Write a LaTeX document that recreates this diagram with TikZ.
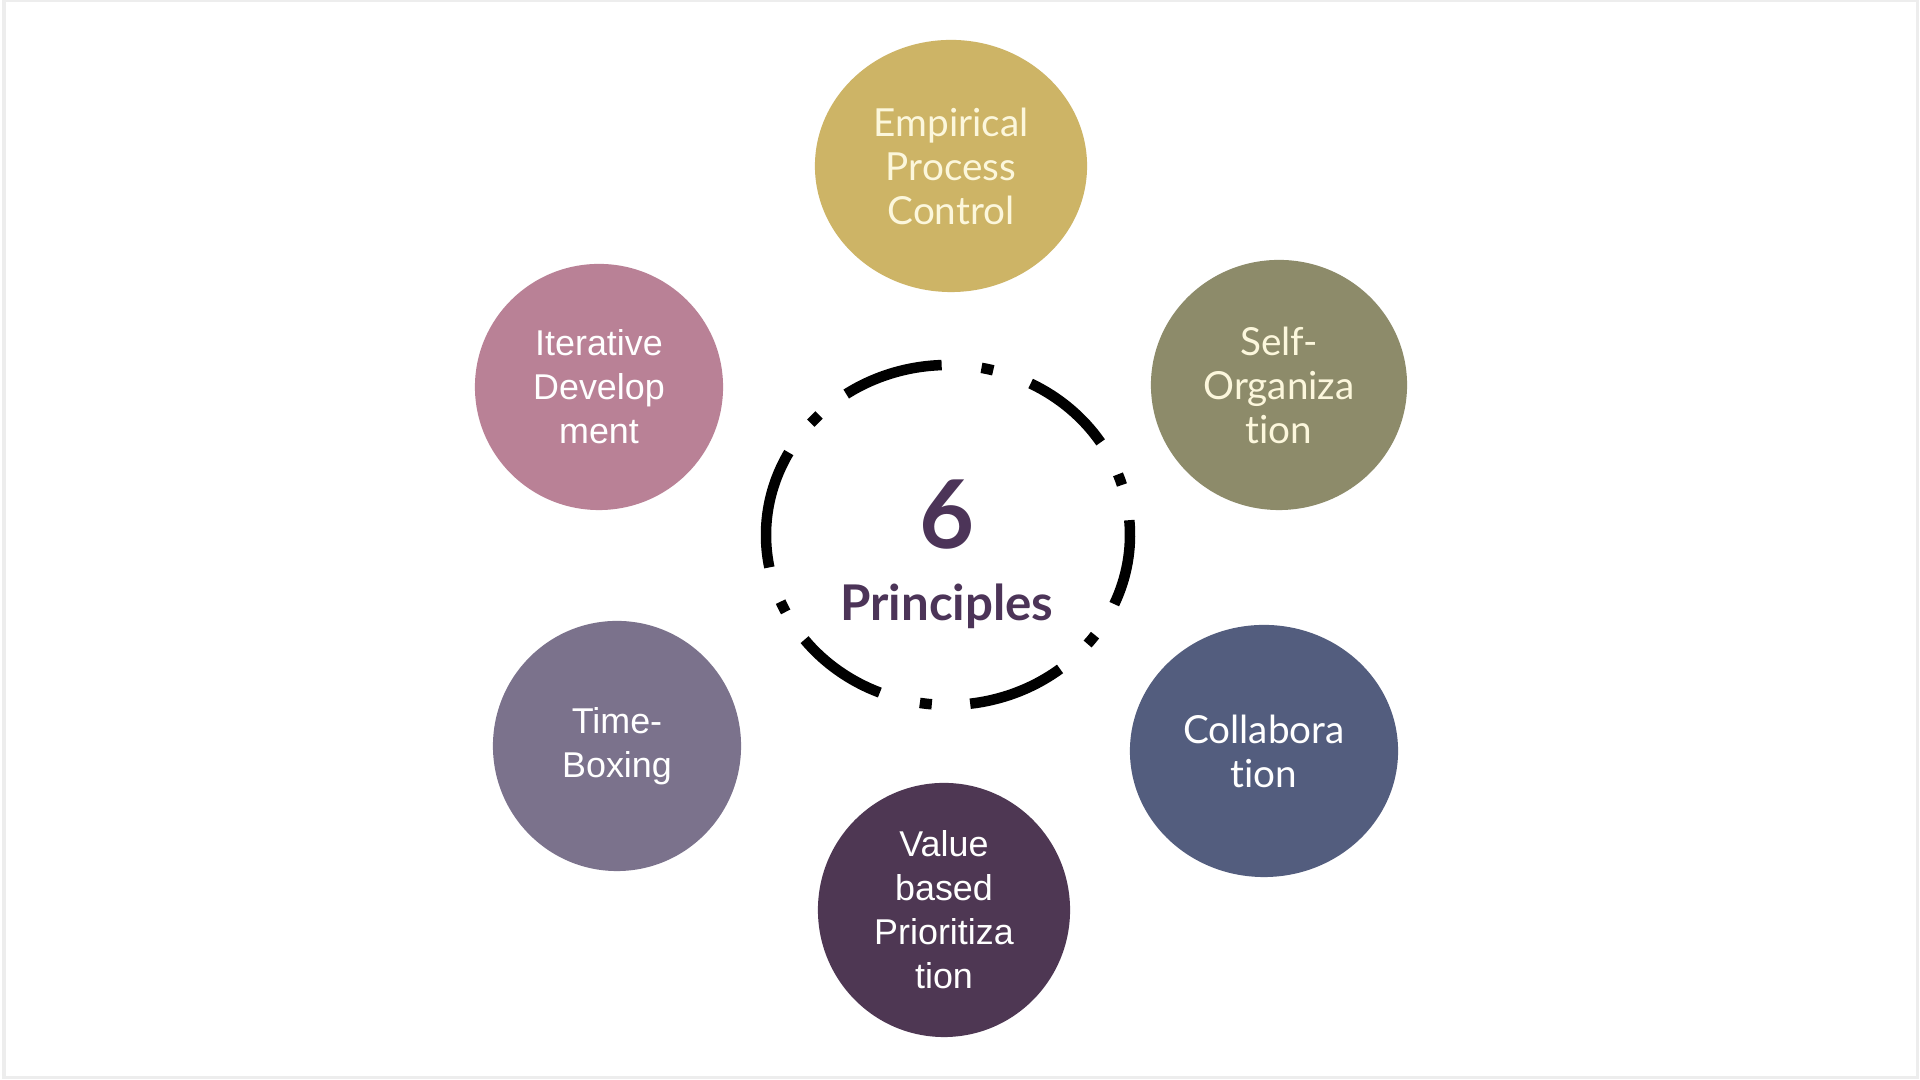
\documentclass[tikz,border=0pt]{standalone}
\usepackage{fontspec}
\setmainfont{Liberation Sans}
\newfontfamily\roundfont[Ligatures=NoCommon]{Lato}
\usepackage{tikz}
\usetikzlibrary{shapes.geometric}
\usepackage{xcolor}

\definecolor{empgold}{RGB}{205,180,102}
\definecolor{selfolive}{RGB}{141,139,106}
\definecolor{collabblue}{RGB}{83,93,126}
\definecolor{valueplum}{RGB}{78,55,83}
\definecolor{timegrey}{RGB}{123,114,140}
\definecolor{iterrose}{RGB}{185,129,150}
\definecolor{hubtext}{RGB}{76,52,88}
\definecolor{creamtext}{RGB}{252,247,220}

\begin{document}
\begin{tikzpicture}[x=0.01cm, y=0.01cm,
  principle/.style={ellipse, inner sep=0pt, align=center, text=white,
    font=\fontsize{10.2}{12.5}\selectfont},
  roundtext/.style={text=creamtext, font=\roundfont\fontsize{11}{12.5}\selectfont},
  hubring/.style={line width=0.105cm, line cap=butt, black}
]

  % ── canvas ───────────────────────────────────────────────────────────────
  \useasboundingbox (0,0) rectangle (1920,1080);
  \fill[white] (0,0) rectangle (1920,1080);
  \draw[black!7, line width=0.03cm] (4,2) rectangle (1917,1079);

  % ── six principles ───────────────────────────────────────────────────────
  \node[principle, roundtext, fill=empgold, minimum width=2.72cm, minimum height=2.52cm]
    (emp) at (951,914) {Empirical\\Process\\Control};
  \node[principle, roundtext, fill=selfolive, minimum width=2.56cm, minimum height=2.50cm]
    (self) at (1279,695) {Self-\\Organiza\\tion};
  \node[principle, roundtext, text=white, fill=collabblue, minimum width=2.68cm, minimum height=2.52cm]
    (collab) at (1264,329) {Collabora\\tion};
  \node[principle, fill=valueplum, minimum width=2.52cm, minimum height=2.54cm]
    (value) at (944,170) {Value\\based\\Prioritiza\\tion};
  \node[principle, fill=timegrey, minimum width=2.48cm, minimum height=2.50cm]
    (time) at (617,334) {Time-\\Boxing};
  \node[principle, fill=iterrose, minimum width=2.48cm, minimum height=2.46cm]
    (iter) at (599,693) {Iterative\\Develop\\ment};

  % ── dash-dot ring round the hub ──────────────────────────────────────────
  \def\rx{182}\def\ry{170}
  \coordinate (hub) at (948,545);
  % long dashes (start/end angle)
  \foreach \s/\e in {92/124, 151/191, 218/248, 277/308, 336/365, 33/63}{
    \draw[hubring] (hub) ++({\s}:{\rx} and {\ry})
      arc[start angle=\s, end angle=\e, x radius=\rx, y radius=\ry];
  }
  % square dots
  \foreach \d in {137, 205, 263, 322, 19, 77.5}{
    \draw[hubring] (hub) ++({\d-1.9}:{\rx} and {\ry})
      arc[start angle=\d-1.9, end angle=\d+1.9, x radius=\rx, y radius=\ry];
  }

  % ── hub label ────────────────────────────────────────────────────────────
  \node[anchor=base, text=hubtext, font=\roundfont\bfseries\fontsize{27}{30}\selectfont]
    (six) at (947,531) {6};
  \node[anchor=base, text=hubtext, font=\roundfont\bfseries\fontsize{14}{16}\selectfont]
    (prin) at (947,459) {Principles};

\end{tikzpicture}
\end{document}
